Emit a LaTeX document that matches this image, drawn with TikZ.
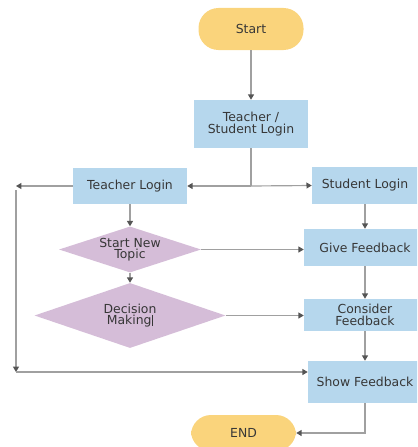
\documentclass[tikz,border=0pt]{standalone}
\usepackage{fontspec}
\setmainfont{DejaVu Sans}
\usetikzlibrary{arrows.meta,shapes.geometric}
\definecolor{termfill}{RGB}{250,212,124}
\definecolor{boxfill}{RGB}{182,215,237}
\definecolor{decfill}{RGB}{213,189,216}
\definecolor{linegray}{RGB}{160,160,160}
\definecolor{tipgray}{RGB}{85,85,85}
\definecolor{textgray}{RGB}{55,55,55}

\begin{document}
\begin{tikzpicture}[x=0.03cm,y=-0.03cm,
  every node/.style={text=textgray,font=\fontsize{10.6}{9.8}\selectfont,align=center,inner sep=0pt},
  term/.style={rectangle,rounded corners=0.6cm,fill=termfill,minimum width=3.15cm,minimum height=1.26cm},
  box/.style={rectangle,fill=boxfill,minimum width=3.42cm},
  dec/.style={diamond,fill=decfill,aspect=3},
  line/.style={draw=linegray,line width=1pt},
  arr/.style={line,-{Triangle[length=4.5pt,width=5pt,color=tipgray]}}]
\useasboundingbox (0,0) rectangle (417,447);
\clip (0,0) rectangle (417,447);

\node[term] (start) at (251,29) {Start};
\node[box,minimum height=1.44cm] (tslogin) at (251,124) {Teacher /\\Student Login};
\node[box,minimum height=1.08cm] (tlogin) at (130,186) {Teacher Login};
\node[box,minimum width=3.18cm,minimum height=1.11cm] (slogin) at (365,185.5) {Student Login};
\node[dec,minimum width=4.26cm,minimum height=1.38cm] (topic) at (130,249.5) {Start New\\Topic};
\node[dec,minimum width=5.73cm,minimum height=1.95cm] (decide) at (130,315.5) {Decision\\Making\rule[-1pt]{1.3pt}{9pt}};
\node[box,minimum width=3.66cm,minimum height=1.11cm] (give) at (365,247.5) {Give Feedback};
\node[box,minimum width=3.66cm,minimum height=0.96cm] (consider) at (365,315) {Consider\\Feedback};
\node[box,minimum width=3.42cm,minimum height=1.26cm] (show) at (365,382) {Show Feedback};
\node[term,minimum height=1.08cm] (finish) at (243.5,433) {END};

\coordinate (split) at (251,186);
\coordinate (lefttop) at (16,186);
\coordinate (leftbottom) at (16,372);

\draw[arr] (start) -- (tslogin);
\draw[line] (tslogin.south) -- (split);
\draw[arr] (split) -- (tlogin.east);
\draw[arr] (split) -- (slogin.west);
\draw[arr] (tlogin.west) -- (lefttop);
\draw[arr] ([yshift=-0.12cm]lefttop) -- (leftbottom);
\draw[arr] (leftbottom) -- (show.west |- leftbottom);
\draw[arr] (tlogin) -- (topic);
\draw[arr] (topic) -- (decide);
\draw[arr] (topic.east) -- (give.west |- topic.east);
\draw[arr] (decide.east) -- (consider.west |- decide.east);
\draw[arr] (slogin) -- (give);
\draw[arr] (give) -- (consider);
\draw[arr] (consider) -- (show);
\draw[arr] (show.south) |- (finish.east);
\end{tikzpicture}
\end{document}
